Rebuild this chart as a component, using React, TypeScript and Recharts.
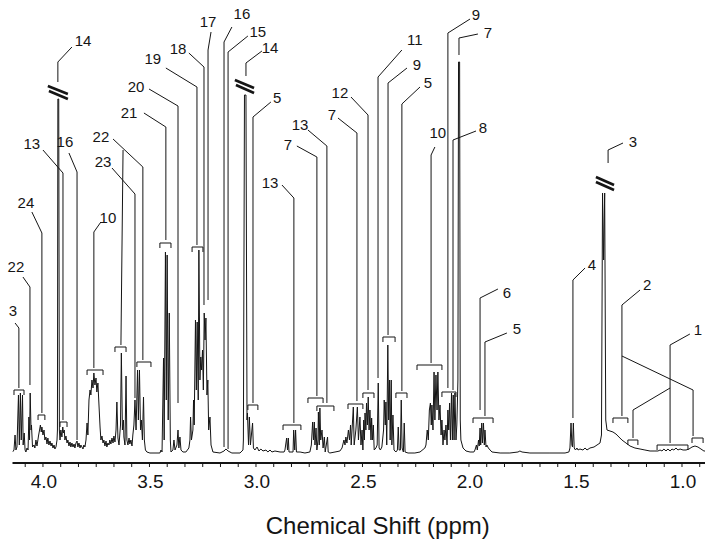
import { LineChart, Line, XAxis, YAxis, ReferenceLine, ReferenceDot } from "recharts";

// spectrum, [ppm, intensity (a.u.)] from left to right
const spectrumA = [
  [4.143, 11], [4.136, 13], [4.131, 28], [4.127, 13], [4.122, 16], [4.115, 68], [4.111, 18], [4.106, 70],
  [4.102, 23], [4.096, 68], [4.093, 18], [4.088, 30], [4.084, 13], [4.08, 11], [4.075, 15], [4.07, 13],
  [4.066, 46], [4.063, 23], [4.06, 70], [4.056, 33], [4.054, 38], [4.049, 16], [4.042, 18], [4.038, 15],
  [4.033, 23], [4.028, 17], [4.021, 27], [4.016, 33], [4.012, 38], [4.008, 31], [4.005, 36], [4.0, 28],
  [3.995, 33], [3.991, 23], [3.986, 26], [3.981, 19], [3.977, 25], [3.972, 18], [3.967, 22], [3.962, 17],
  [3.958, 20], [3.953, 15], [3.948, 18], [3.944, 14], [3.939, 16], [3.934, 23], [3.932, 33], [3.93, 364],
  [3.926, 364], [3.923, 33],
];
const spectrumB = [
  [3.92, 23], [3.916, 33], [3.911, 26], [3.907, 36], [3.904, 30], [3.9, 33], [3.897, 23], [3.892, 27],
  [3.887, 20], [3.883, 23], [3.878, 17], [3.873, 21], [3.869, 16], [3.864, 20], [3.859, 16], [3.854, 19],
  [3.85, 15], [3.845, 20], [3.84, 22], [3.836, 16], [3.831, 20], [3.826, 15], [3.822, 18], [3.817, 16],
  [3.812, 14], [3.808, 18], [3.803, 16], [3.798, 23], [3.793, 40], [3.789, 28], [3.784, 63], [3.779, 73],
  [3.775, 68], [3.77, 83], [3.765, 75], [3.761, 90], [3.756, 78], [3.751, 85], [3.747, 71], [3.742, 80],
  [3.737, 58], [3.732, 36], [3.728, 23], [3.723, 27], [3.718, 20], [3.714, 23], [3.709, 17], [3.704, 22],
  [3.7, 16], [3.695, 20], [3.69, 18], [3.686, 23], [3.681, 19], [3.676, 25], [3.671, 20], [3.667, 27],
  [3.662, 21],
];
const spectrumC = [
  [3.657, 33], [3.653, 61], [3.648, 25], [3.643, 18], [3.636, 38], [3.632, 110], [3.627, 33], [3.622, 43],
  [3.62, 26], [3.615, 18], [3.61, 87], [3.606, 23], [3.601, 18], [3.596, 25], [3.592, 19], [3.587, 23],
  [3.582, 17], [3.578, 28], [3.573, 38], [3.568, 63], [3.563, 33], [3.556, 93], [3.552, 43], [3.547, 93],
  [3.542, 33], [3.538, 43], [3.533, 23], [3.528, 66], [3.524, 23], [3.519, 13], [3.512, 11], [3.498, 10],
  [3.451, 10],
];
const spectrumD = [
  [3.446, 13], [3.441, 11], [3.434, 105], [3.431, 23], [3.425, 211], [3.421, 63], [3.417, 208], [3.412, 43],
  [3.407, 150], [3.402, 23], [3.399, 11], [3.39, 13], [3.385, 23], [3.38, 13], [3.371, 18], [3.366, 33],
  [3.362, 15], [3.357, 26], [3.352, 13], [3.343, 11], [3.329, 11], [3.315, 15], [3.31, 23], [3.307, 46],
  [3.303, 23], [3.296, 33], [3.293, 63], [3.29, 38], [3.284, 143], [3.28, 73], [3.276, 141], [3.271, 63],
  [3.268, 213], [3.263, 83], [3.259, 106], [3.255, 93], [3.251, 113], [3.247, 73], [3.243, 150], [3.239, 123],
  [3.235, 145], [3.23, 68], [3.226, 83], [3.222, 33], [3.216, 46], [3.211, 18], [3.202, 11],
];
const spectrumE = [
  [3.169, 10], [3.15, 12], [3.141, 14], [3.131, 12], [3.113, 10], [3.075, 10], [3.061, 13], [3.059, 23],
  [3.054, 368], [3.047, 368], [3.042, 43], [3.04, 50], [3.035, 18], [3.031, 46], [3.026, 18], [3.016, 40],
  [3.012, 15], [3.005, 13], [2.995, 16], [2.986, 12], [2.977, 14], [2.967, 12], [2.953, 13], [2.944, 11],
  [2.934, 13], [2.925, 11], [2.911, 12], [2.887, 11], [2.868, 11],
];
const spectrumF = [
  [2.864, 13], [2.856, 25], [2.852, 13], [2.848, 25], [2.845, 11], [2.826, 11], [2.823, 33], [2.818, 13],
  [2.814, 33], [2.81, 11], [2.793, 11], [2.77, 10], [2.747, 11], [2.74, 18], [2.734, 41], [2.73, 23],
  [2.726, 41], [2.723, 18], [2.718, 35], [2.714, 13], [2.709, 23], [2.707, 51], [2.703, 18], [2.7, 55],
  [2.696, 23], [2.69, 33], [2.685, 15], [2.679, 26], [2.675, 11], [2.664, 26], [2.661, 11], [2.653, 10],
  [2.629, 11], [2.606, 12], [2.596, 15], [2.587, 23], [2.582, 18], [2.578, 26], [2.573, 20], [2.566, 33],
  [2.561, 23], [2.556, 38], [2.553, 18], [2.543, 56], [2.539, 18], [2.531, 33], [2.524, 56], [2.519, 23],
  [2.512, 46], [2.507, 18], [2.502, 33], [2.498, 13],
];
const spectrumG = [
  [2.494, 43], [2.491, 23], [2.488, 50], [2.484, 33], [2.481, 60], [2.477, 38], [2.473, 66], [2.469, 33],
  [2.465, 53], [2.46, 23], [2.457, 45], [2.453, 23], [2.449, 38], [2.445, 13], [2.437, 15], [2.431, 18],
  [2.426, 80], [2.422, 15], [2.416, 13], [2.409, 16], [2.401, 33], [2.398, 63], [2.393, 38], [2.39, 61],
  [2.386, 18], [2.381, 118], [2.377, 43], [2.373, 83], [2.37, 23], [2.365, 83], [2.362, 18], [2.357, 48],
  [2.352, 13], [2.343, 11], [2.336, 13], [2.332, 36], [2.328, 13], [2.322, 13], [2.318, 63], [2.314, 15],
  [2.308, 11], [2.304, 40], [2.3, 11], [2.286, 10], [2.254, 10], [2.23, 11], [2.207, 15],
];
const spectrumH = [
  [2.202, 18], [2.196, 33], [2.191, 23], [2.186, 53], [2.181, 60], [2.177, 38], [2.174, 58], [2.169, 33],
  [2.164, 91], [2.16, 43], [2.155, 88], [2.15, 53], [2.146, 91], [2.141, 43], [2.136, 58], [2.131, 28],
  [2.127, 43], [2.122, 18], [2.117, 33], [2.113, 23], [2.108, 38], [2.103, 18], [2.099, 53], [2.095, 33],
  [2.091, 60], [2.087, 23], [2.082, 70], [2.078, 23], [2.074, 68], [2.07, 23], [2.066, 70], [2.061, 23],
  [2.057, 38], [2.054, 63], [2.052, 83], [2.049, 401], [2.044, 401], [2.041, 43], [2.038, 23], [2.028, 15],
  [2.014, 12], [1.995, 11], [1.977, 11],
];
const spectrumI = [
  [1.972, 13], [1.965, 18], [1.961, 13], [1.955, 23], [1.952, 17], [1.948, 35], [1.945, 18], [1.94, 40],
  [1.937, 20], [1.932, 40], [1.928, 18], [1.925, 33], [1.92, 16], [1.916, 18], [1.909, 15], [1.901, 13],
  [1.892, 11], [1.854, 10], [1.808, 10], [1.77, 11], [1.761, 12], [1.751, 11], [1.714, 10], [1.62, 10],
  [1.549, 10], [1.531, 11], [1.526, 15], [1.521, 40], [1.517, 18], [1.514, 16], [1.51, 40], [1.506, 15],
  [1.5, 13], [1.493, 15], [1.488, 13], [1.479, 14], [1.465, 13], [1.455, 15], [1.446, 13], [1.432, 15],
  [1.413, 16], [1.399, 18], [1.385, 20],
];
const spectrumJ = [
  [1.378, 28], [1.373, 270], [1.368, 203], [1.363, 270], [1.358, 43], [1.352, 33], [1.338, 32], [1.324, 31],
  [1.31, 29], [1.296, 26], [1.282, 23], [1.263, 20], [1.244, 17], [1.221, 15], [1.197, 14], [1.174, 13],
  [1.15, 12], [1.127, 12], [1.113, 12], [1.103, 13], [1.094, 12], [1.085, 14], [1.075, 12], [1.066, 14],
  [1.056, 12], [1.047, 14], [1.038, 13], [1.028, 15], [1.019, 13], [1.009, 14], [0.995, 13], [0.981, 13],
  [0.967, 14], [0.953, 16], [0.939, 17], [0.925, 16], [0.911, 14], [0.897, 12], [0.892, 12],
];

const majorTicks = [4.0, 3.5, 3.0, 2.5, 2.0, 1.5, 1.0];

// peak labels: [text, ppm, height]
const peakLabels = [
  ["3", 4.141, 152], ["22", 4.127, 196], ["24", 4.08, 260], ["13", 4.052, 319], ["16", 3.897, 321],
  ["14", 3.812, 422], ["10", 3.695, 245], ["22", 3.728, 326], ["23", 3.718, 301], ["21", 3.596, 350],
  ["20", 3.563, 376], ["19", 3.484, 404], ["18", 3.366, 414], ["17", 3.225, 441], ["16", 3.066, 449],
  ["15", 2.991, 431], ["14", 2.934, 415], ["5", 2.901, 365], ["13", 2.934, 280], ["7", 2.85, 318],
  ["13", 2.793, 338], ["7", 2.643, 348], ["12", 2.606, 370], ["11", 2.254, 423], ["9", 2.244, 398],
  ["5", 2.193, 380], ["10", 2.146, 330], ["9", 1.967, 448], ["8", 1.934, 335], ["7", 1.911, 430],
  ["6", 1.822, 170], ["5", 1.775, 134], ["4", 1.423, 198], ["3", 1.23, 321], ["2", 1.164, 178],
  ["1", 0.925, 133],
];

// leader lines from label to peak: [ppm, height] polylines
const leaders = [
  [[3.864, 416], [3.93, 401], [3.93, 381]],
  [[4.0, 313], [3.906, 290], [3.906, 43]],
  [[3.878, 310], [3.84, 291], [3.84, 23]],
  [[4.052, 251], [4.005, 230], [4.005, 50]],
  [[4.094, 186], [4.061, 176], [4.061, 78]],
  [[4.131, 140], [4.113, 135], [4.113, 75]],
  [[3.728, 241], [3.761, 231], [3.761, 95]],
  [[3.671, 324], [3.531, 296], [3.531, 103]],
  [[3.624, 313], [3.634, 118]],
  [[3.676, 295], [3.568, 269], [3.568, 65]],
  [[3.526, 350], [3.423, 336], [3.423, 223]],
  [[3.502, 374], [3.366, 357], [3.366, 60]],
  [[3.423, 395], [3.277, 376], [3.277, 218]],
  [[3.315, 410], [3.244, 396], [3.244, 158]],
  [[3.211, 431], [3.225, 413], [3.225, 163]],
  [[3.113, 436], [3.15, 421], [3.15, 16]],
  [[3.038, 427], [3.131, 411], [3.131, 14]],
  [[2.972, 412], [3.047, 400], [3.047, 387]],
  [[2.93, 361], [3.014, 346], [3.014, 60]],
  [[2.878, 278], [2.822, 265], [2.822, 40]],
  [[2.808, 317], [2.714, 306], [2.714, 67]],
  [[2.756, 333], [2.667, 317], [2.667, 60]],
  [[2.615, 345], [2.526, 330], [2.526, 62]],
  [[2.554, 366], [2.474, 348], [2.474, 73]],
  [[2.315, 413], [2.427, 386], [2.427, 85]],
  [[2.291, 395], [2.38, 380], [2.38, 128]],
  [[2.23, 376], [2.315, 359], [2.315, 72]],
  [[2.16, 316], [2.178, 308], [2.178, 100]],
  [[1.995, 444], [2.099, 430], [2.099, 75]],
  [[1.967, 332], [2.075, 323], [2.075, 73]],
  [[1.958, 429], [2.047, 425], [2.047, 408]],
  [[1.864, 174], [1.948, 165], [1.948, 53]],
  [[1.822, 130], [1.925, 121], [1.925, 47]],
  [[1.455, 195], [1.512, 183], [1.512, 45]],
  [[1.277, 320], [1.347, 313], [1.347, 300]],
  [[1.197, 173], [1.282, 158], [1.282, 47]],
  [[1.282, 107], [0.948, 73], [0.948, 27]],
  [[0.963, 129], [1.056, 118], [1.056, 20]],
  [[1.056, 75], [1.23, 53], [1.23, 25]],
];

// multiplet brackets: [ppm from, ppm to, height]
const brackets = [
  [4.136, 4.089, 73], [4.023, 3.991, 48], [3.92, 3.887, 41], [3.793, 3.718, 93], [3.662, 3.61, 116],
  [3.559, 3.493, 101], [3.451, 3.399, 220], [3.3, 3.249, 216], [3.038, 2.991, 58], [2.873, 2.789, 38],
  [2.756, 2.685, 65], [2.714, 2.634, 57], [2.568, 2.498, 59], [2.498, 2.446, 70], [2.404, 2.347, 126],
  [2.343, 2.291, 70], [2.244, 2.127, 98], [2.127, 2.061, 71], [1.981, 1.887, 45], [1.324, 1.254, 45],
  [1.254, 1.207, 23], [1.117, 0.972, 18], [0.953, 0.901, 25],
];

// axis-break marks on the truncated peaks
const breakMarks = [
  [[3.977, 377], [3.883, 369]], [[3.972, 372], [3.883, 364]],
  [[3.099, 383], [3.009, 375]], [[3.094, 378], [3.009, 370]],
  [[1.404, 286], [1.319, 278]], [[1.404, 281], [1.319, 273]],
];

const FONT = '"Liberation Sans", Arial, Helvetica, sans-serif';
const INK = "#151515";

const spectrum = [
  ...spectrumA, ...spectrumB, ...spectrumC, ...spectrumD, ...spectrumE,
  ...spectrumF, ...spectrumG, ...spectrumH, ...spectrumI, ...spectrumJ,
].map(([ppm, v]) => ({ ppm, v }));

const axisTicks = Array.from({ length: 39 }, (_, i) => 4.0 - (i - 1) / 12);

const isMajor = (v: number) => majorTicks.some((m) => Math.abs(m - v) < 1e-6);

function AxisTick({ x, y, payload }: any) {
  if (!isMajor(payload.value)) return <g />;
  return (
    <text x={x + 1} y={y + 19} textAnchor="middle" fontSize={19} fontFamily={FONT} fill={INK}>
      {payload.value.toFixed(1)}
    </text>
  );
}

const bracketDrop = 5;

export default function App() {
  const segs: { a: number[]; b: number[]; w: number }[] = [];
  leaders.forEach((pl) => {
    for (let i = 0; i < pl.length - 1; i++) segs.push({ a: pl[i], b: pl[i + 1], w: 1 });
  });
  brackets.forEach(([p1, p2, h]) => {
    segs.push({ a: [p1, h - bracketDrop], b: [p1, h], w: 1 });
    segs.push({ a: [p1, h], b: [p2, h], w: 1 });
    segs.push({ a: [p2, h], b: [p2, h - bracketDrop], w: 1 });
  });
  breakMarks.forEach(([a, b]) => segs.push({ a, b, w: 2.6 }));

  return (
    <div style={{ position: "absolute", left: 0, top: 0, width: 714, height: 547, background: "#fff" }}>
      <LineChart width={714} height={547} data={spectrum} margin={{ top: 0, right: 9, left: 12.5, bottom: 0 }}>
        <XAxis
          dataKey="ppm"
          type="number"
          domain={[0.892, 4.143]}
          reversed
          allowDataOverflow
          ticks={axisTicks}
          interval={0}
          tick={<AxisTick />}
          tickSize={4}
          tickLine={{ stroke: INK, strokeWidth: 1 }}
          axisLine={{ stroke: INK, strokeWidth: 2 }}
          height={84}
          label={{
            value: "Chemical Shift (ppm)",
            position: "insideBottom",
            offset: 13,
            dx: 19,
            style: { fontSize: 24, fontFamily: FONT, fill: INK },
          }}
        />
        <YAxis hide type="number" domain={[0, 463]} allowDataOverflow />
        <Line
          type="linear"
          dataKey="v"
          stroke={INK}
          strokeWidth={1}
          dot={false}
          activeDot={false}
          isAnimationActive={false}
        />
        {segs.map((s, i) => (
          <ReferenceLine
            key={`s${i}`}
            segment={[{ x: s.a[0], y: s.a[1] }, { x: s.b[0], y: s.b[1] }]}
            stroke={INK}
            strokeWidth={s.w}
            ifOverflow="visible"
          />
        ))}
        {peakLabels.map(([t, p, h], i) => (
          <ReferenceDot
            key={`l${i}`}
            x={p as number}
            y={h as number}
            r={0}
            fill="none"
            stroke="none"
            ifOverflow="visible"
            label={{ value: t, position: "center", fontSize: 15, fontFamily: FONT, fill: INK }}
          />
        ))}
      </LineChart>
    </div>
  );
}
